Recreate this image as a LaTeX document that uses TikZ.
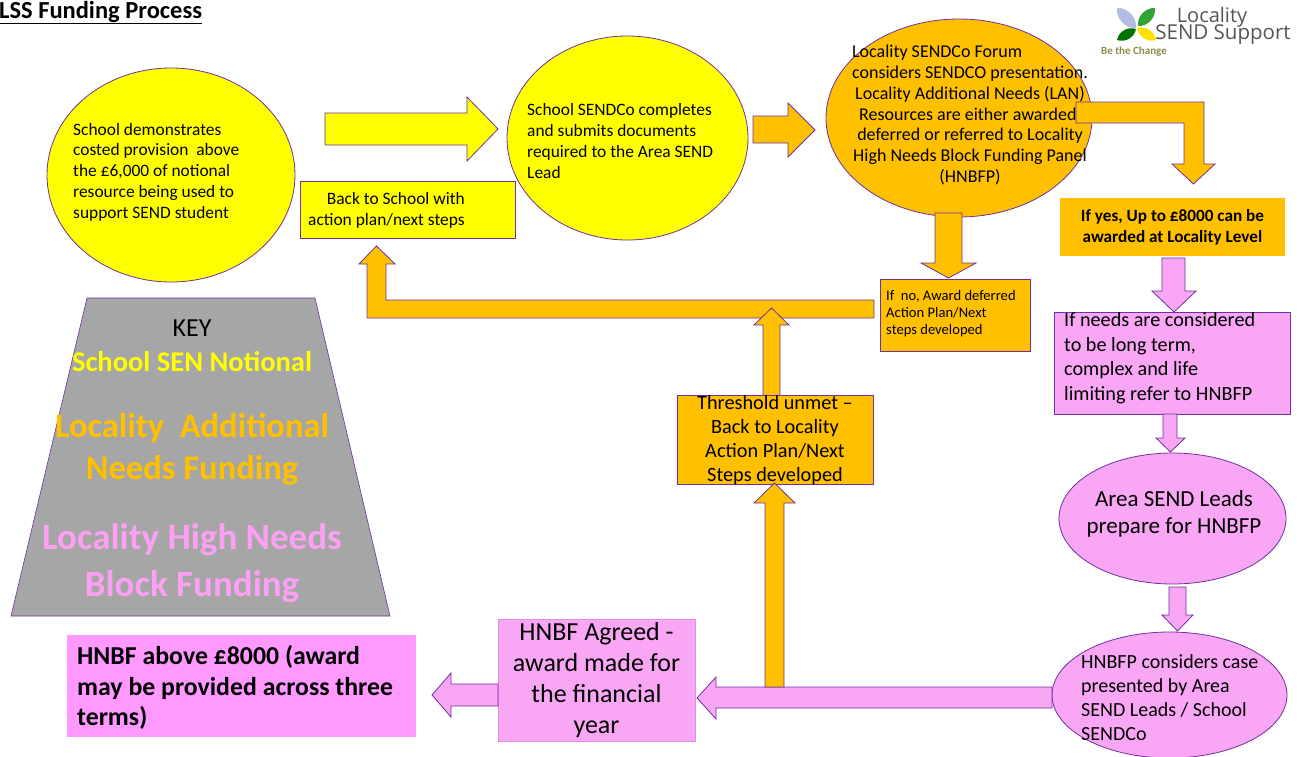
\documentclass[tikz,border=0pt]{standalone}
\usepackage{fontspec}
\setmainfont{Carlito}
\newfontfamily\logofont{Open Sans}
\usepackage{calc}
\usepackage{tikz}
\usetikzlibrary{shapes.geometric}
\definecolor{yel}{HTML}{FFFF00}
\definecolor{orng}{HTML}{FFC000}
\definecolor{pnk}{HTML}{F9A6F5}
\definecolor{hotpnk}{HTML}{FF99FF}
\definecolor{keypnk}{HTML}{FBA0F2}
\definecolor{edge}{HTML}{7030A0}
\definecolor{keygray}{HTML}{A6A6A6}
\definecolor{logogray}{HTML}{555555}
\definecolor{logoolive}{HTML}{8C8C46}
\newcommand\fsz[2]{\fontsize{#1}{#2}\selectfont}

\begin{document}
\begin{tikzpicture}[x=1pt,y=-1pt,
  every node/.style={inner sep=0pt, font=\fsz{17.4}{20.8}},
  bubble/.style={ellipse, draw=edge, line width=0.8pt},
  box/.style={rectangle, draw=edge, line width=0.8pt, align=center},
  blockarrow/.style={draw=edge, line width=0.8pt, line join=miter},
  keytxt/.style={font=\bfseries\fsz{34.5}{42}, align=center}]
  \useasboundingbox (0,0) rectangle (1309,756);

  % title and logo
  \node[anchor=west, font=\bfseries\fsz{24.5}{28}] (title) at (-1,12.5) {\underline{LSS Funding Process}};
  \fill[cyan!35!blue!30] (1117,8) to[bend left=50] (1136,28) to[bend left=50] (1117,8);
  \fill[green!55!black!80] (1155,8) to[bend left=50] (1138,26) to[bend left=50] (1155,8);
  \fill[green!45!black] (1117,40) to[bend left=50] (1136,29) to[bend left=50] (1117,40);
  \fill[yellow!85!orange] (1156,40) to[bend left=50] (1137,28) to[bend left=50] (1156,40);
  \node[font=\logofont\fsz{20}{22}, text=logogray] (logo1) at (1212,17) {Locality};
  \node[font=\logofont\fsz{20.5}{22}, text=logogray] (logo2) at (1223,35) {SEND Support};
  \node[font=\bfseries\fsz{11}{12}, text=logoolive] (logo3) at (1134,52) {Be the Change};

  % key
  \draw[fill=keygray, draw=edge, line width=0.6pt] (87,298) -- (315,298) -- (390,616) -- (11,616) -- cycle;
  \node[font=\fsz{26}{28}] (key) at (192,328) {KEY};
  \node[keytxt, font=\bfseries\fsz{28.5}{32}, text=yel] (key1) at (192,362) {School SEN Notional};
  \node[keytxt, text=orng] (key2) at (192,449) {Locality\ \ Additional\\Needs Funding};
  \node[keytxt, font=\bfseries\fsz{37}{47}, text=keypnk] (key3) at (192,563) {Locality High Needs\\Block Funding};

  % top row
  \node[bubble, fill=yel, minimum width=248, minimum height=214] (school) at (171,175) {};
  \node[anchor=west, align=left] (school-t) at (73,172) {School demonstrates\\costed provision\ \ above\\the £6,000 of notional\\resource being used to\\support SEND student};
  \draw[blockarrow, fill=yel] (325,113) -- (467,113) -- (467,97) -- (498,129) -- (467,161) -- (467,145) -- (325,145) -- cycle;
  \node[box, fill=yel, minimum width=215, minimum height=57] (back) at (407.5,209.5) {};
  \node[anchor=east, align=right] (back-t) at (465,210.5) {Back to School with\\action plan/next steps};

  \node[bubble, fill=yel, minimum width=241, minimum height=204] (sendco) at (627.5,138) {};
  \node[anchor=west, align=left] (sendco-t) at (527,141) {School SENDCo completes\\and submits documents\\required to the Area SEND\\Lead};
  \draw[blockarrow, fill=orng] (753,116) -- (788,116) -- (788,103) -- (815,130) -- (788,157) -- (788,143) -- (753,143) -- cycle;

  \node[bubble, fill=orng, minimum width=266, minimum height=198] (forum) at (959,118) {};
  \node[align=center, font=\fsz{18}{20.7}] (forum-t) at (970,115) {\makebox[\widthof{considers SENDCO presentation.}][l]{Locality SENDCo Forum}\\considers SENDCO presentation.\\Locality Additional Needs (LAN)\\Resources are either awarded,\\deferred or referred to Locality\\High Needs Block Funding Panel\\(HNBFP)};
  \draw[blockarrow, fill=orng] (1076,102) -- (1204,102) -- (1204,164) -- (1215,164) -- (1193.5,184) -- (1172,164) -- (1184,164) -- (1184,123) -- (1076,123) -- cycle;
  \draw[blockarrow, fill=orng] (935,213) -- (962,213) -- (962,263) -- (976,263) -- (948.5,278) -- (921,263) -- (935,263) -- cycle;

  % locality outcomes
  \node[box, draw=none, fill=orng, minimum width=225, minimum height=58, font=\bfseries\fsz{17.2}{21}] (yes) at (1172.5,227) {If yes, Up to £8000 can be\\awarded at Locality Level};
  \node[box, fill=orng, minimum width=150, minimum height=72] (no) at (955,315) {};
  \node[anchor=west, align=left, font=\fsz{14.6}{17}] (no-t) at (886,314) {If\ \ no, Award deferred\\Action Plan/Next\\steps developed};
  \draw[blockarrow, fill=orng] (874,300) -- (386,300) -- (386,264) -- (395,264) -- (376.5,246) -- (359,264) -- (367,264) -- (367,318) -- (874,318) -- cycle;
  \draw[blockarrow, fill=orng] (763,398) -- (763,325) -- (754,325) -- (771.5,308) -- (789,325) -- (780,325) -- (780,398) -- cycle;
  \node[box, fill=orng, minimum width=196, minimum height=84, font=\fsz{20.3}{24}] (unmet) at (775,440) {Threshold unmet --\\Back to Locality\\Action Plan/Next\\Steps developed};

  % high needs route
  \draw[blockarrow, fill=pnk] (1162,258) -- (1185,258) -- (1185,291) -- (1196,291) -- (1174,312) -- (1152,291) -- (1162,291) -- cycle;
  \node[box, fill=pnk, minimum width=236, minimum height=102] (needs) at (1172,363) {};
  \node[anchor=west, align=left, font=\fsz{20.2}{24.5}] (needs-t) at (1064,358) {If needs are considered\\to be long term,\\complex and life\\limiting refer to HNBFP};
  \draw[blockarrow, fill=pnk] (1163,414) -- (1177,414) -- (1177,438) -- (1185,438) -- (1170.5,452) -- (1156,438) -- (1163,438) -- cycle;
  \node[bubble, fill=pnk, minimum width=227, minimum height=131] (area) at (1172.5,518.5) {};
  \node[align=center, font=\fsz{23}{27}] (area-t) at (1174,513.5) {Area SEND Leads\\prepare for HNBFP};
  \draw[blockarrow, fill=pnk] (1169,587) -- (1186,587) -- (1186,615) -- (1193,615) -- (1177.5,631) -- (1162,615) -- (1169,615) -- cycle;
  \node[bubble, fill=pnk, minimum width=235, minimum height=126] (panel) at (1169.5,695) {};
  \node[anchor=west, align=left, font=\fsz{20}{24}] (panel-t) at (1081,698) {HNBFP considers case\\presented by Area\\SEND Leads / School\\SENDCo};

  % bottom row
  \draw[blockarrow, fill=pnk] (1052,687) -- (716,687) -- (716,677) -- (697,698) -- (716,719) -- (716,708) -- (1052,708) -- cycle;
  \draw[blockarrow, fill=orng] (765,687) -- (765,503) -- (754,503) -- (774.5,483) -- (795,503) -- (784,503) -- (784,687) -- cycle;
  \node[box, draw=pnk!80!edge, line width=0.4pt, fill=pnk, minimum width=197, minimum height=122, font=\fsz{26}{31}] (agreed) at (596.5,680) {HNBF Agreed -\\award made for\\the financial\\year};
  \draw[blockarrow, fill=pnk] (498,684) -- (451,684) -- (451,673) -- (432,695) -- (451,717) -- (451,706) -- (498,706) -- cycle;
  \node[box, draw=none, fill=hotpnk, minimum width=349, minimum height=102] (above) at (241.5,686) {};
  \node[anchor=west, align=left, font=\bfseries\fsz{25.8}{30.5}] (above-t) at (77,687.5) {HNBF above £8000 (award\\may be provided across three\\terms)};
\end{tikzpicture}
\end{document}
